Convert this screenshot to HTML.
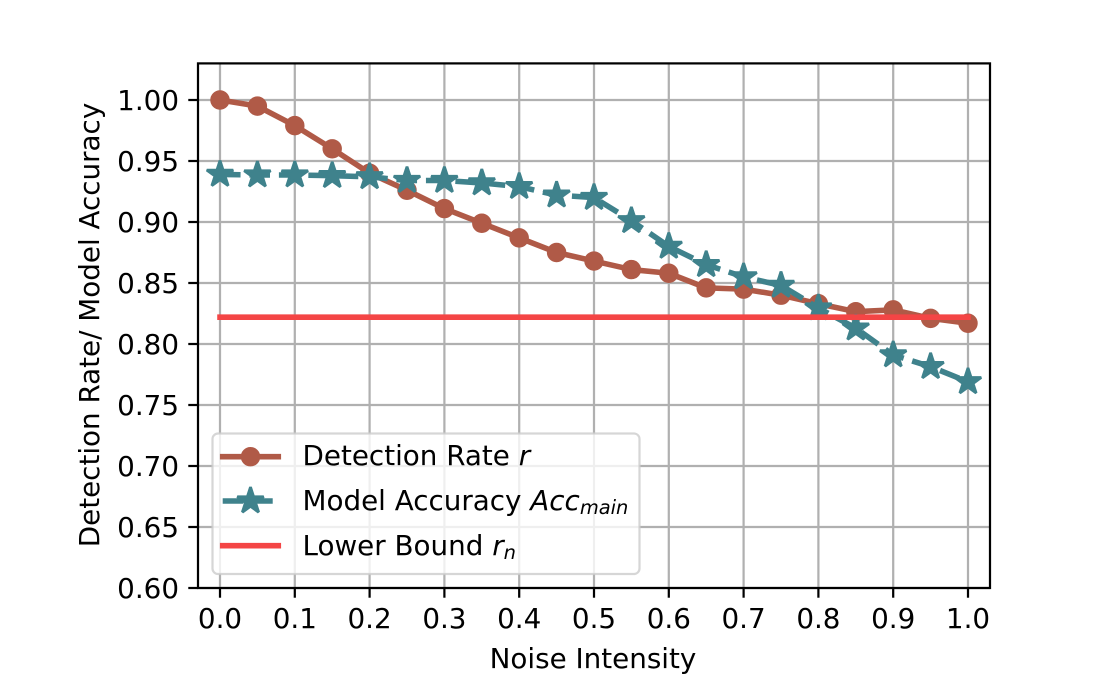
<!DOCTYPE html>
<html lang="en">
<head>
<meta charset="utf-8">
<title>Detection Rate and Model Accuracy vs Noise Intensity</title>
<style>
html,body{margin:0;padding:0;background:#fff;}
svg{display:block;}
text{font-family:"DejaVu Sans","Liberation Sans",sans-serif;font-size:27.78px;fill:#000;}
.it{font-style:italic;}
</style>
</head>
<body>
<svg id="chart" xmlns="http://www.w3.org/2000/svg" width="1100" height="700" viewBox="0 0 1100 700"></svg>
<script>
const noiseLevels = [0,0.05,0.1,0.15,0.2,0.25,0.3,0.35,0.4,0.45,0.5,0.55,0.6,0.65,0.7,0.75,0.8,0.85,0.9,0.95,1.0];
const detectionRate = [1.0,0.995,0.979,0.96,0.94,0.926,0.911,0.899,0.887,0.875,0.868,0.861,0.858,0.846,0.845,0.84,0.833,0.8265,0.828,0.821,0.817];
const modelAccuracy = [0.939,0.9385,0.9385,0.938,0.937,0.934,0.934,0.932,0.929,0.922,0.92,0.901,0.88,0.865,0.855,0.848,0.8295,0.813,0.791,0.7814,0.769];
const lowerBoundX = [0,1];
const lowerBoundY = [0.822,0.822];
const xTicks = [0,0.1,0.2,0.3,0.4,0.5,0.6,0.7,0.8,0.9,1.0];
const yTicks = [0.6,0.65,0.7,0.75,0.8,0.85,0.9,0.95,1.0];

const RED = '#b05a47', TEAL = '#3f828c', BOUND = '#f44545';
const plot = {left:198, right:990, top:63.4, bottom:588};
const xScale = v => 220 + v * 748;
const yScale = v => 588 - (v - 0.6) * 1220;

const NS = 'http://www.w3.org/2000/svg';
const svg = document.getElementById('chart');
function make(tag, attrs, parent){
  const el = document.createElementNS(NS, tag);
  for (const k in attrs) el.setAttribute(k, attrs[k]);
  (parent || svg).appendChild(el);
  return el;
}
function pointsOf(xs, ys){
  return xs.map((x,i) => xScale(x).toFixed(2) + ',' + yScale(ys[i]).toFixed(2)).join(' ');
}
function starPoints(cx, cy, r){
  const pts = [];
  for (let i = 0; i < 10; i++){
    const rad = i % 2 ? r * 0.381966 : r;
    const a = -Math.PI / 2 + i * Math.PI / 5;
    pts.push((cx + rad * Math.cos(a)).toFixed(2) + ',' + (cy + rad * Math.sin(a)).toFixed(2));
  }
  return pts.join(' ');
}

/* background */
const bg = make('rect', {x:0, y:0, width:1100, height:700, fill:'#fff'});



/* grid */
const grid = make('g', {stroke:'#b0b0b0', 'stroke-width':2.22, fill:'none'});


xTicks.forEach(t => {
  const l = make('line', {x1:xScale(t), x2:xScale(t), y1:plot.top, y2:plot.bottom}, grid);
  
  
});
yTicks.forEach(t => {
  const l = make('line', {x1:plot.left, x2:plot.right, y1:yScale(t), y2:yScale(t)}, grid);
  
  
});

/* detection rate series */
const redGroup = make('g', {});


const redLine = make('polyline', {points:pointsOf(noiseLevels, detectionRate), fill:'none', stroke:RED, 'stroke-width':5.56, 'stroke-linejoin':'round', 'stroke-linecap':'square'}, redGroup);


noiseLevels.forEach((x,i) => {
  const c = make('circle', {cx:xScale(x), cy:yScale(detectionRate[i]), r:8.33, fill:RED, stroke:RED, 'stroke-width':2.78}, redGroup);
  
  
});

/* model accuracy series */
const tealGroup = make('g', {});


const tealLine = make('polyline', {points:pointsOf(noiseLevels, modelAccuracy), fill:'none', stroke:TEAL, 'stroke-width':5.56, 'stroke-linejoin':'round', 'stroke-dasharray':'20.56 8.89'}, tealGroup);


noiseLevels.forEach((x,i) => {
  const s = make('polygon', {points:starPoints(xScale(x), yScale(modelAccuracy[i]), 13.89), fill:TEAL, stroke:TEAL, 'stroke-width':2.78, 'stroke-linejoin':'bevel'}, tealGroup);
  
  
});

/* lower bound */
const bound = make('polyline', {points:pointsOf(lowerBoundX, lowerBoundY), fill:'none', stroke:BOUND, 'stroke-width':5.56, 'stroke-linecap':'square'});



/* axes frame */
const frame = make('rect', {x:plot.left, y:plot.top, width:plot.right-plot.left, height:plot.bottom-plot.top, fill:'none', stroke:'#000', 'stroke-width':2.22});



/* x ticks */
const xAxis = make('g', {});


xTicks.forEach(t => {
  const m = make('line', {x1:xScale(t), x2:xScale(t), y1:plot.bottom, y2:plot.bottom+9.72, stroke:'#000', 'stroke-width':2.22}, xAxis);
  
  
  const l = make('text', {x:xScale(t), y:628, 'text-anchor':'middle'}, xAxis);
  l.textContent = t.toFixed(1);
  
  
});

/* y ticks */
const yAxis = make('g', {});


yTicks.forEach(t => {
  const m = make('line', {x1:plot.left-9.72, x2:plot.left, y1:yScale(t), y2:yScale(t), stroke:'#000', 'stroke-width':2.22}, yAxis);
  
  
  const l = make('text', {x:179, y:yScale(t)+10, 'text-anchor':'end'}, yAxis);
  l.textContent = t.toFixed(2);
  
  
});

/* axis titles */
const xTitle = make('text', {x:593, y:668, 'text-anchor':'middle'});
xTitle.textContent = 'Noise Intensity';


const yTitle = make('text', {transform:'translate(99 325) rotate(-90)', 'text-anchor':'middle'});
yTitle.textContent = 'Detection Rate/ Model Accuracy';



/* legend */
const legend = make('g', {});


const box = make('rect', {x:212.5, y:433.5, width:427, height:140.5, rx:5.5, ry:5.5, fill:'#fff', 'fill-opacity':0.8, stroke:'#cccccc', 'stroke-opacity':0.8, 'stroke-width':2.22}, legend);



const e1 = make('g', {}, legend);


make('line', {x1:222.7, x2:278.3, y1:456.7, y2:456.7, stroke:RED, 'stroke-width':5.56, 'stroke-linecap':'square'}, e1);
make('circle', {cx:250.5, cy:456.7, r:8.33, fill:RED, stroke:RED, 'stroke-width':2.78}, e1);
const t1 = make('text', {x:302.5, y:465}, e1);
t1.appendChild(document.createTextNode('Detection Rate '));
const t1a = make('tspan', {class:'it'}, t1);
t1a.textContent = 'r';

const e2 = make('g', {}, legend);


make('line', {x1:222.7, x2:278.3, y1:501, y2:501, stroke:TEAL, 'stroke-width':5.56, 'stroke-dasharray':'20.56 8.89'}, e2);
make('polygon', {points:starPoints(250.5, 501, 13.89), fill:TEAL, stroke:TEAL, 'stroke-width':2.78, 'stroke-linejoin':'bevel'}, e2);
const t2 = make('text', {x:302.5, y:510}, e2);
t2.appendChild(document.createTextNode('Model Accuracy '));
const t2a = make('tspan', {class:'it'}, t2);
t2a.textContent = 'Acc';
const t2b = make('tspan', {class:'it', dy:4.2, style:'font-size:19.45px'}, t2);
t2b.textContent = 'main';

const e3 = make('g', {}, legend);


make('line', {x1:222.7, x2:278.3, y1:545.7, y2:545.7, stroke:BOUND, 'stroke-width':5.56, 'stroke-linecap':'square'}, e3);
const t3 = make('text', {x:302.5, y:555}, e3);
t3.appendChild(document.createTextNode('Lower Bound '));
const t3a = make('tspan', {class:'it'}, t3);
t3a.textContent = 'r';
const t3b = make('tspan', {class:'it', dy:4.2, style:'font-size:19.45px'}, t3);
t3b.textContent = 'n';
</script>
</body>
</html>
